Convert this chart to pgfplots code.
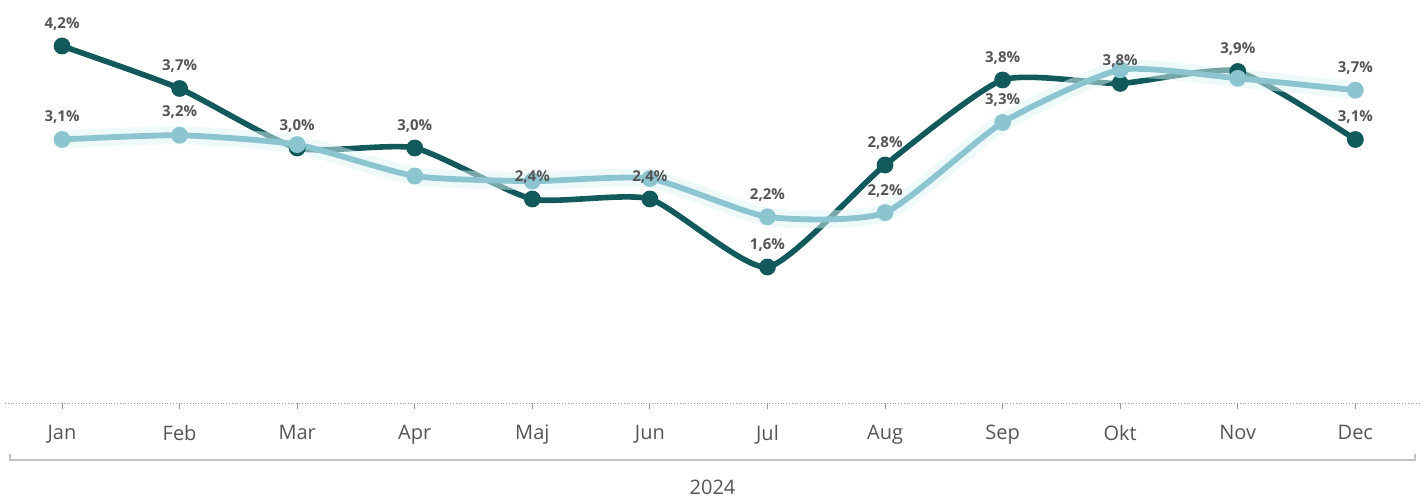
\documentclass[border=0pt]{standalone}
\usepackage{pgfplots}
\pgfplotsset{compat=1.18}
\usepackage{fontspec}
\setmainfont{Open Sans}
\definecolor{dark}{HTML}{12595B}
\definecolor{light}{HTML}{8CC5D0}
\definecolor{glow}{HTML}{DDF3F5}
\definecolor{txt}{HTML}{555555}
\definecolor{axgray}{HTML}{9A9A9A}
\begin{document}
\begin{tikzpicture}
\useasboundingbox (-2.5pt,-46.5pt) rectangle (710pt,201.5pt);
\begin{axis}[
  scale only axis, width=707.5pt, height=195.5pt,
  at={(0,0)}, anchor=south west,
  xmin=-0.485, xmax=11.55, ymin=0, ymax=4.6,
  axis x line=bottom, axis y line=none,
  x axis line style={axgray, densely dotted, -},
  xtick={0,...,11},
  xticklabels={Jan,Feb,Mar,Apr,Maj,Jun,Jul,Aug,Sep,Okt,Nov,Dec},
  tick align=outside, major tick length=3pt,
  xtick style={axgray, thin},
  x tick label style={font=\fontsize{10}{11}\selectfont, text=txt, yshift=-4.5pt},
  clip=false,
  point meta=y,
  every node near coord/.style={font=\bfseries\fontsize{7.5}{8}\selectfont, text=txt, anchor=center, yshift=11pt, inner sep=0pt},
]
% dark series
\addplot[dark, line width=2.8pt, smooth, tension=0.35, mark=*, mark size=3.8pt,
  mark options={fill=dark, draw=dark, line width=0.8pt}]
coordinates {(0,4.2) (1,3.7) (2,3.0) (3,3.0) (4,2.4) (5,2.4) (6,1.6) (7,2.8) (8,3.8) (9,3.76) (10,3.9) (11,3.1)};
% light glow
\addplot[glow, line width=9pt, opacity=0.5, smooth, tension=0.35, mark=none]
coordinates {(0,3.1) (1,3.15) (2,3.04) (3,2.67) (4,2.61) (5,2.64) (6,2.19) (7,2.24) (8,3.3) (9,3.92) (10,3.82) (11,3.68)};
% light series
\addplot[light, line width=2.9pt, smooth, tension=0.35, mark=*, mark size=3.8pt,
  mark options={fill=light, draw=light, line width=0.8pt}]
coordinates {(0,3.1) (1,3.15) (2,3.04) (3,2.67) (4,2.61) (5,2.64) (6,2.19) (7,2.24) (8,3.3) (9,3.92) (10,3.82) (11,3.68)};
% dark labels
\addplot[draw=none, mark=none,
  nodes near coords={\pgfmathprintnumber[fixed, fixed zerofill, precision=1, use comma, assume math mode=true]{\pgfplotspointmeta}\%}]
coordinates {(0,4.2) (1,3.7) (2,3.0) (3,3.0) (4,2.4) (5,2.4) (6,1.6) (7,2.8) (8,3.8) (9,3.76) (10,3.9) (11,3.1)};
% light labels (only the visible ones)
\addplot[draw=none, mark=none,
  nodes near coords={\pgfmathprintnumber[fixed, fixed zerofill, precision=1, use comma, assume math mode=true]{\pgfplotspointmeta}\%}]
coordinates {(0,3.1) (1,3.16) (6,2.19) (7,2.24) (8,3.3) (11,3.68)};
\end{axis}
\draw[axgray!60, line width=0.9pt] ([xshift=2.5pt,yshift=-25.5pt]current axis.south west) -- ++(0,-3pt) -- ([xshift=-2.5pt,yshift=-28.5pt]current axis.south east) -- ++(0,3pt);
\node[font=\fontsize{10}{11}\selectfont, text=txt] at ([yshift=-42pt]current axis.south) {2024};
\end{tikzpicture}
\end{document}
